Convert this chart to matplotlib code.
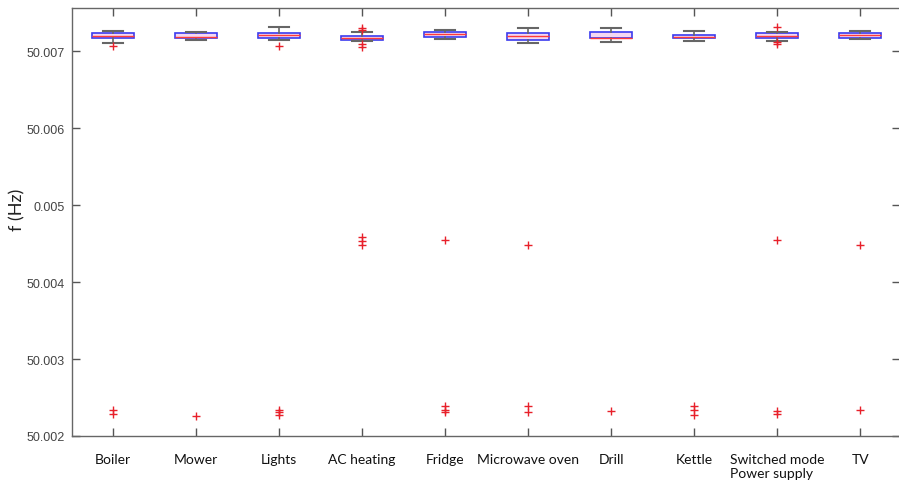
import numpy as np
import matplotlib.pyplot as plt

# appliance frequency statistics (Hz)
appliances = ["Boiler", "Mower", "Lights", "AC heating", "Fridge",
              "Microwave oven", "Drill", "Kettle",
              "Switched mode\nPower supply", "TV"]

whislo = [50.007100, 50.007147, 50.007147, 50.007134, 50.007156,
          50.007100, 50.007113, 50.007134, 50.007134, 50.007156]
q1 = [50.007169, 50.007169, 50.007169, 50.007147, 50.007178,
      50.007147, 50.007165, 50.007165, 50.007169, 50.007165]
med = [50.007199, 50.007186, 50.007208, 50.007175, 50.007221,
       50.007191, 50.007173, 50.007186, 50.007199, 50.007212]
q3 = [50.007230, 50.007234, 50.007234, 50.007199, 50.007243,
      50.007234, 50.007243, 50.007212, 50.007230, 50.007234]
whishi = [50.007264, 50.007243, 50.007308, 50.007243, 50.007277,
          50.007299, 50.007299, 50.007264, 50.007243, 50.007256]

fliers = [
    [50.007069, 50.002342, 50.002286],
    [50.002264],
    [50.007069, 50.002342, 50.002308, 50.002273],
    [50.007295, 50.007268, 50.007091, 50.007052,
     50.004580, 50.004530, 50.004480],
    [50.004545, 50.002386, 50.002342, 50.002308],
    [50.004481, 50.002386, 50.002308],
    [50.002329],
    [50.002394, 50.002342, 50.002273],
    [50.007308, 50.007113, 50.007091, 50.004545, 50.002321, 50.002286],
    [50.004481, 50.002338],
]

yticks = [50.002, 50.003, 50.004, 50.005, 50.006, 50.007]
ytick_labels = ["50.002", "50.003", "50.004", "0.005", "50.006", "50.007"]

stats = []
for i, name in enumerate(appliances):
    stats.append(dict(label=name, whislo=whislo[i], q1=q1[i], med=med[i],
                      q3=q3[i], whishi=whishi[i], fliers=fliers[i]))

fig = plt.figure(figsize=(8.99, 4.81), dpi=100)
ax = fig.add_axes([0.0801, 0.0915, 0.9210, 0.8898])

positions = np.arange(1, len(appliances) + 1)
ax.bxp(stats, positions=positions, widths=0.5, patch_artist=True,
       boxprops=dict(facecolor="#f4d8f2", edgecolor="#3b3bef", linewidth=1.2),
       medianprops=dict(color="#ff3a3a", linewidth=1.0),
       whiskerprops=dict(color="#666666", linewidth=1.2),
       capprops=dict(color="#666666", linewidth=1.5),
       capwidths=0.24,
       flierprops=dict(marker="+", markeredgecolor="#e8202a",
                       markersize=6, markeredgewidth=1.0, linestyle="none"))

ax.set_xlim(0.506, 10.48)
ax.set_ylim(50.002, 50.00756)
ax.set_yticks(yticks)
ax.set_yticklabels(ytick_labels, fontfamily="Liberation Sans", fontsize=9,
                   color="#444444")
ax.set_xticks(positions)
ax.set_xticklabels(appliances, fontfamily="Lato", fontsize=10,
                   color="#111111", multialignment="left")

ax.tick_params(direction="in", top=True, right=True, length=6,
               color="#555555", width=1.0)
ax.tick_params(axis="x", pad=12)
ax.tick_params(axis="y", pad=5)
for s in ax.spines.values():
    s.set_color("#666666")
    s.set_linewidth(1.0)

ax.set_ylabel("f (Hz)", fontfamily="Lato", fontsize=13, color="#222222")
ax.yaxis.set_label_coords(-0.056, 0.53)

fig.savefig("out.png", dpi=100)
